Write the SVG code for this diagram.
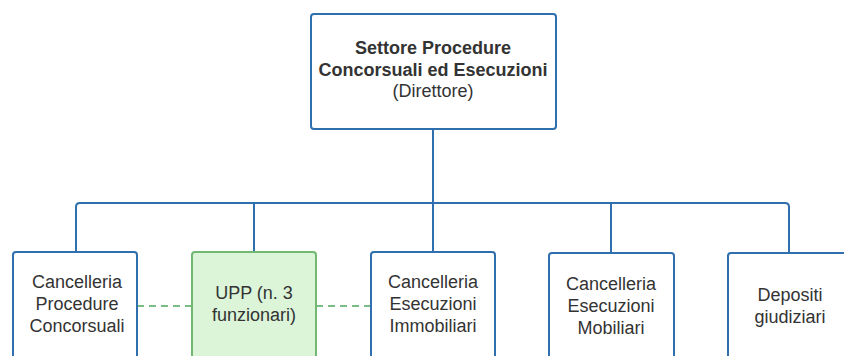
<svg xmlns="http://www.w3.org/2000/svg" width="844" height="356" viewBox="0 0 844 356">
<style>
.box{fill:#ffffff;stroke:#2f6fad;stroke-width:2}
.green{fill:#dcf5d9;stroke:#72b872;stroke-width:2}
.t{font-family:"Liberation Sans",Arial,sans-serif;font-size:18px;fill:#333333;text-anchor:middle}
.b{font-weight:bold}
.conn{fill:none;stroke:#2f6fad;stroke-width:2}
.dash{fill:none;stroke:#78be84;stroke-width:2;stroke-dasharray:7 5}
</style>
<rect width="844" height="356" fill="#ffffff"/>
<g id="connectors">
<path class="conn" d="M433 129 V203"/>
<path class="conn" d="M76 252 V207 Q76 203 80 203 H785 Q789 203 789 207 V252"/>
<path class="conn" d="M254 203 V252"/>
<path class="conn" d="M433 203 V252"/>
<path class="conn" d="M611 203 V253"/>
<path class="dash" d="M137 306 H192"/>
<path class="dash" d="M316 306 H371"/>
</g>
<g id="n0">
<rect class="box" x="311" y="14" width="245" height="115" rx="3"/>
<text class="t b" x="433" y="54">Settore Procedure</text>
<text class="t b" x="433" y="76">Concorsuali ed Esecuzioni</text>
<text class="t" x="433" y="97">(Direttore)</text>
</g>
<g id="n1">
<rect class="box" x="13" y="252" width="124" height="110" rx="3"/>
<text class="t" x="77" y="288">Cancelleria</text>
<text class="t" x="77" y="310">Procedure</text>
<text class="t" x="77" y="332">Concorsuali</text>
</g>
<g id="n2">
<rect class="green" x="192" y="252" width="124" height="110" rx="3"/>
<text class="t" x="254" y="299">UPP (n. 3</text>
<text class="t" x="254" y="321">funzionari)</text>
</g>
<g id="n3">
<rect class="box" x="371" y="252" width="124" height="110" rx="3"/>
<text class="t" x="433" y="288">Cancelleria</text>
<text class="t" x="433" y="310">Esecuzioni</text>
<text class="t" x="433" y="332">Immobiliari</text>
</g>
<g id="n4">
<rect class="box" x="549" y="253" width="125" height="110" rx="3"/>
<text class="t" x="611" y="290">Cancelleria</text>
<text class="t" x="611" y="312">Esecuzioni</text>
<text class="t" x="611" y="334">Mobiliari</text>
</g>
<g id="n5">
<rect class="box" x="728" y="253" width="125" height="110" rx="3"/>
<text class="t" x="790" y="301">Depositi</text>
<text class="t" x="790" y="323">giudiziari</text>
</g>
</svg>
